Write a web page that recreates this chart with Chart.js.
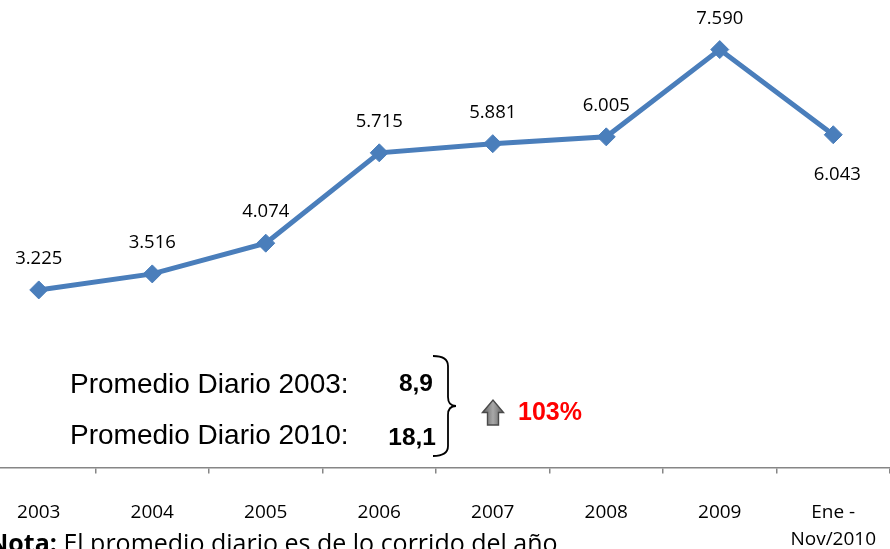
<!DOCTYPE html>
<html>
<head>
<meta charset="utf-8">
<script src="https://cdn.jsdelivr.net/npm/chart.js@4.4.1/dist/chart.umd.min.js"></script>
<style>
  html, body { margin: 0; padding: 0; overflow: hidden; background: #fff; width: 890px; height: 549px; }
  #wrap { position: absolute; left: -28px; top: 0; width: 938px; height: 549px; }
  #ov { position: absolute; left: 0; top: 0; width: 890px; height: 549px; pointer-events: none; }
</style>
</head>
<body>
<div id="wrap"><canvas id="c" width="938" height="549"></canvas></div>
<svg id="ov" width="890" height="549" xmlns="http://www.w3.org/2000/svg">
  <defs>
    <linearGradient id="ag" x1="0" y1="0" x2="1" y2="0">
      <stop offset="0" stop-color="#5e5e5e"/>
      <stop offset="0.5" stop-color="#a8a8a8"/>
      <stop offset="1" stop-color="#5e5e5e"/>
    </linearGradient>
  </defs>
  <g font-family="'Liberation Sans', Arial, sans-serif" fill="#000">
    <text x="70" y="393" font-size="28">Promedio Diario 2003:</text>
    <text x="70" y="444" font-size="28">Promedio Diario 2010:</text>
    <text x="433" y="391" font-size="24.5" font-weight="bold" text-anchor="end">8,9</text>
    <text x="436" y="445" font-size="24.5" font-weight="bold" text-anchor="end">18,1</text>
    <text x="518" y="420" font-size="25" font-weight="bold" fill="#ff0000">103%</text>
  </g>
  <path d="M433,356 Q448,356 448,366 L448,397 Q448,406 456,406 Q448,406 448,415 L448,446 Q448,456 433,456" fill="none" stroke="#000" stroke-width="1.8"/>
  <path d="M482.5,412.5 L493,400 L503.5,412.5 L498.5,412.5 L498.5,425 L487.5,425 L487.5,412.5 Z" fill="url(#ag)" stroke="#4a4a4a" stroke-width="1.4"/>
  <text x="-12" y="552" font-family="'Open Sans', sans-serif" font-size="25" fill="#000"><tspan font-weight="bold">Nota:</tspan> El promedio diario es de lo corrido del año</text>
</svg>
<script>
const categories = ['2003', '2004', '2005', '2006', '2007', '2008', '2009', ['Ene -', 'Nov/2010']];
const values = [3225, 3516, 4074, 5715, 5881, 6005, 7590, 6043];

function fmt(v) {
  return String(v).replace(/\B(?=(\d{3})+(?!\d))/g, '.');
}

const dataLabels = {
  id: 'dataLabels',
  afterDatasetsDraw(chart) {
    const ctx = chart.ctx;
    const meta = chart.getDatasetMeta(0);
    ctx.save();
    ctx.font = "18.5px 'Open Sans'";
    ctx.fillStyle = '#000';
    ctx.textAlign = 'center';
    ctx.textBaseline = 'middle';
    meta.data.forEach((pt, i) => {
      const last = i === meta.data.length - 1;
      const dy = last ? 40 : -31;
      ctx.fillText(fmt(values[i]), pt.x + (last ? 4 : 0), pt.y + dy);
    });
    ctx.restore();
  }
};

Chart.defaults.font.family = "'Open Sans'";

new Chart(document.getElementById('c'), {
  type: 'line',
  data: {
    labels: categories,
    datasets: [{
      data: values,
      borderColor: '#4A7EBB',
      backgroundColor: '#4A7EBB',
      borderWidth: 5,
      pointStyle: 'rectRot',
      pointRadius: 9,
      pointBackgroundColor: '#4A7EBB',
      pointBorderColor: '#4A7EBB',
      pointBorderWidth: 1,
      tension: 0,
      fill: false
    }]
  },
  options: {
    responsive: false,
    animation: false,
    devicePixelRatio: 1,
    layout: { padding: { top: 27, right: 20, left: 0, bottom: 0 } },
    plugins: { legend: { display: false }, tooltip: { enabled: false }, title: { display: false } },
    scales: {
      x: {
        type: 'category',
        offset: true,
        grid: { display: true, drawOnChartArea: false, drawTicks: true, tickLength: 6, color: '#868686', lineWidth: 1.5, offset: true },
        border: { display: true, color: '#868686', width: 1.5 },
        ticks: { color: '#000', font: { size: 19, lineHeight: 1.45 }, padding: 25, maxRotation: 0, autoSkip: false },
        afterFit(scale) { scale.height = 81.5; }
      },
      y: { display: false, min: 0, max: 8000 }
    }
  },
  plugins: [dataLabels]
});
</script>
</body>
</html>
